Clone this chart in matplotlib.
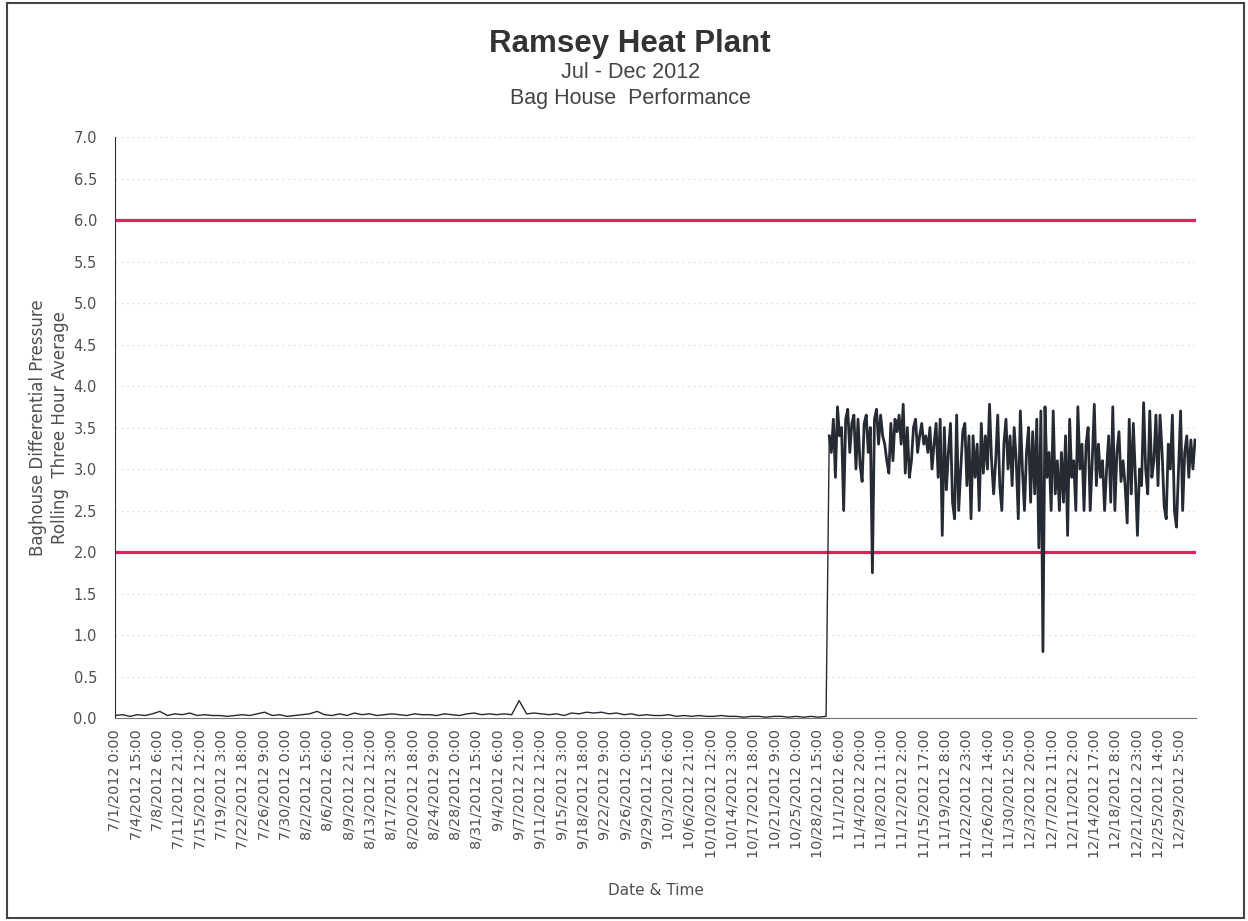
"""
Ramsey Heat Plant - baghouse differential pressure, Jul - Dec 2012.
Rolling three hour average with the 2.0 / 6.0 operating limits.
"""

import numpy as np
import matplotlib
matplotlib.use('Agg')
import matplotlib.pyplot as plt
from matplotlib.patches import Rectangle

# x axis is hours since 7/1/2012 0:00, one category label every 87 h
TICK_STEP_H = 87
END_HOUR = 4416

TICK_LABELS = [
    '7/1/2012 0:00', '7/4/2012 15:00', '7/8/2012 6:00', '7/11/2012 21:00',
    '7/15/2012 12:00', '7/19/2012 3:00', '7/22/2012 18:00', '7/26/2012 9:00',
    '7/30/2012 0:00', '8/2/2012 15:00', '8/6/2012 6:00', '8/9/2012 21:00',
    '8/13/2012 12:00', '8/17/2012 3:00', '8/20/2012 18:00', '8/24/2012 9:00',
    '8/28/2012 0:00', '8/31/2012 15:00', '9/4/2012 6:00', '9/7/2012 21:00',
    '9/11/2012 12:00', '9/15/2012 3:00', '9/18/2012 18:00', '9/22/2012 9:00',
    '9/26/2012 0:00', '9/29/2012 15:00', '10/3/2012 6:00', '10/6/2012 21:00',
    '10/10/2012 12:00', '10/14/2012 3:00', '10/17/2012 18:00', '10/21/2012 9:00',
    '10/25/2012 0:00', '10/28/2012 15:00', '11/1/2012 6:00', '11/4/2012 20:00',
    '11/8/2012 11:00', '11/12/2012 2:00', '11/15/2012 17:00', '11/19/2012 8:00',
    '11/22/2012 23:00', '11/26/2012 14:00', '11/30/2012 5:00', '12/3/2012 20:00',
    '12/7/2012 11:00', '12/11/2012 2:00', '12/14/2012 17:00', '12/18/2012 8:00',
    '12/21/2012 23:00', '12/25/2012 14:00', '12/29/2012 5:00',
]

# plant offline Jul - Oct: readings near zero (one small blip around 9/7)
OFFLINE_START_H = 0
OFFLINE_END_H = 2905
OFFLINE_DP = [
    0.03, 0.04, 0.02, 0.04, 0.03, 0.05, 0.08, 0.03, 0.05, 0.04,
    0.06, 0.03, 0.04, 0.03, 0.03, 0.02, 0.03, 0.04, 0.03, 0.05,
    0.07, 0.03, 0.04, 0.02, 0.03, 0.04, 0.05, 0.08, 0.04, 0.03,
    0.05, 0.03, 0.06, 0.04, 0.05, 0.03, 0.04, 0.05, 0.04, 0.03,
    0.05, 0.04, 0.04, 0.03, 0.05, 0.04, 0.03, 0.05, 0.06, 0.04,
    0.05, 0.04, 0.05, 0.04, 0.21, 0.05, 0.06, 0.05, 0.04, 0.05,
    0.03, 0.06, 0.05, 0.07, 0.06, 0.07, 0.05, 0.06, 0.04, 0.05,
    0.03, 0.04, 0.03, 0.03, 0.04, 0.02, 0.03, 0.02, 0.03, 0.02,
    0.02, 0.03, 0.02, 0.02, 0.01, 0.02, 0.02, 0.01, 0.02, 0.02,
    0.01, 0.02, 0.01, 0.02, 0.01, 0.02,
]

# plant running from ~10/31 onward
ONLINE_START_H = 2918
ONLINE_END_H = 4412
ONLINE_DP = [
    # early Nov
    3.4, 3.2, 3.6, 2.9, 3.75, 3.4, 3.5, 2.5, 3.6, 3.72,
    3.2, 3.55, 3.65, 3.0, 3.6, 3.05, 2.85, 3.55, 3.65, 3.2,
    3.5, 1.75, 3.6, 3.72, 3.3, 3.65, 3.4, 3.3, 3.1, 2.95,
    3.55, 3.1, 3.6, 3.45, 3.65, 3.3, 3.78, 2.95, 3.5, 2.9,
    3.1, 3.5, 3.6, 3.2, 3.4, 3.55, 3.3,
    # mid / late Nov
    3.4, 3.2, 3.5, 3.0, 3.3, 3.55, 2.9, 3.6, 2.2, 3.5,
    2.75, 3.2, 3.55, 2.6, 2.4, 3.65, 2.5, 3.0, 3.45, 3.55,
    2.8, 3.4, 2.4, 3.4, 2.9, 3.3, 2.5, 3.55, 2.95, 3.4,
    3.0, 3.78, 3.1, 2.7, 3.1, 3.65, 2.8, 2.5, 3.3, 3.6,
    3.0, 3.4, 2.8, 3.5, 3.1, 2.4,
    # early Dec
    3.7, 3.0, 2.5, 3.2, 3.5, 2.6, 3.45, 2.7, 3.6, 2.05,
    3.7, 0.8, 3.75, 2.9, 3.2, 2.5, 3.7, 2.7, 3.1, 2.5,
    3.2, 2.6, 3.4, 2.2, 3.6, 2.9, 3.1, 2.5, 3.75, 3.0,
    3.3, 2.5, 3.3, 3.5, 2.5, 3.1, 3.78, 2.8, 3.3, 2.9,
    3.1, 2.5, 3.0, 3.4,
    # late Dec
    2.6, 3.75, 2.5, 3.2, 3.45, 2.85, 3.1, 2.8, 2.35, 3.6,
    2.7, 3.55, 2.9, 2.2, 3.0, 2.8, 3.8, 3.0, 2.7, 3.7,
    2.9, 3.1, 3.65, 2.8, 3.65, 3.2, 2.55, 2.4, 3.3, 3.0,
    3.65, 2.5, 2.3, 3.0, 3.7, 2.5, 3.2, 3.4, 2.9, 3.35,
    3.0, 3.35,
]

LIMITS = [2.0, 6.0]

TEXT_GRAY = '#4f4f4f'
LINE_COLOR = '#262a33'
LIMIT_COLOR = '#e3215a'


def build_series():
    x_off = np.linspace(OFFLINE_START_H, OFFLINE_END_H, len(OFFLINE_DP))
    x_on = np.linspace(ONLINE_START_H, ONLINE_END_H, len(ONLINE_DP))
    return x_off, np.array(OFFLINE_DP), x_on, np.array(ONLINE_DP)


def plot_chart(x_off, y_off, x_on, y_on, save_path):
    fig = plt.figure(figsize=(12.48, 9.21), dpi=100)
    ax = fig.add_axes([0.0921, 0.2204, 0.8662, 0.6308])

    for yv in np.arange(0.5, 7.01, 0.5):
        ax.axhline(yv, color='#e4e4e4', lw=0.8, ls=(0, (2, 3)), zorder=0)
    for lim in LIMITS:
        ax.axhline(lim, color=LIMIT_COLOR, lw=2.3, zorder=2)

    # thin trace while offline, heavier once the readings get busy
    ax.plot(np.append(x_off, x_on[0]), np.append(y_off, y_on[0]),
            color=LINE_COLOR, lw=1.0, zorder=3)
    ax.plot(x_on, y_on, color=LINE_COLOR, lw=2.0, zorder=3)

    ax.set_xlim(0, END_HOUR)
    ax.set_ylim(0, 7)
    ax.set_yticks(np.arange(0, 7.01, 0.5))
    ax.set_yticklabels([f'{v:.1f}' for v in np.arange(0, 7.01, 0.5)])
    ax.set_xticks(np.arange(len(TICK_LABELS)) * TICK_STEP_H)
    ax.set_xticklabels(TICK_LABELS, rotation=90)

    ax.tick_params(axis='y', length=0, pad=13, labelsize=10.5, labelcolor=TEXT_GRAY)
    ax.tick_params(axis='x', length=0, pad=8, labelsize=10.4, labelcolor=TEXT_GRAY)
    for side in ('top', 'right'):
        ax.spines[side].set_visible(False)
    ax.spines['left'].set_color('#333333')
    ax.spines['bottom'].set_color('#777777')

    ax.set_ylabel('Baghouse Differential Pressure\nRolling  Three Hour Average',
                  fontsize=12, color=TEXT_GRAY, labelpad=3, linespacing=1.3)
    ax.set_xlabel('Date & Time', fontsize=11, color=TEXT_GRAY, labelpad=18)

    fig.text(0.505, 0.952, 'Ramsey Heat Plant', ha='center', va='center',
             fontsize=22.5, fontweight='bold', color='#333333', family='Liberation Sans')
    fig.text(0.505, 0.921, 'Jul - Dec 2012', ha='center', va='center',
             fontsize=15.5, color='#444444', family='Liberation Sans')
    fig.text(0.505, 0.893, 'Bag House  Performance', ha='center', va='center',
             fontsize=15.5, color='#444444', family='Liberation Sans')

    # scanned page frame
    fig.patches.append(Rectangle((0.006, 0.003), 0.991, 0.994, transform=fig.transFigure,
                                 fill=False, edgecolor='#444444', lw=1.5))

    fig.savefig(save_path, dpi=100)
    plt.close()


def main():
    x_off, y_off, x_on, y_on = build_series()
    plot_chart(x_off, y_off, x_on, y_on, 'out.png')


if __name__ == '__main__':
    main()
